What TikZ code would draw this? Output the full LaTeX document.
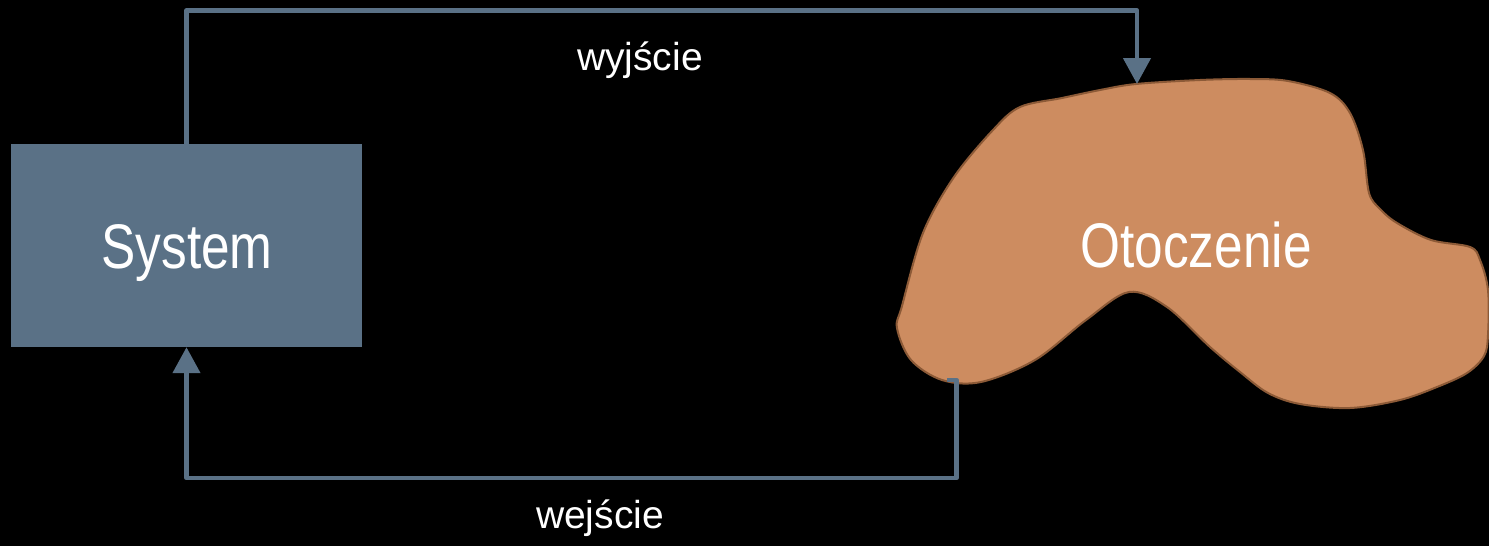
\documentclass[tikz,border=0pt]{standalone}
\usepackage{fontspec}
\setmainfont{Liberation Sans}
\newfontfamily\narrowsans[FakeStretch=0.815]{Liberation Sans}
\usetikzlibrary{arrows.meta}
\definecolor{slate}{HTML}{5A7186}
\definecolor{clay}{HTML}{CD8C60}
\definecolor{clayline}{HTML}{8C5A37}
\begin{document}
\begin{tikzpicture}[x=1pt,y=-1pt,
  conn/.style={draw=slate, line width=4.5pt, line join=round},
  tipend/.style={-{Triangle[length=26pt,width=27pt]}},
  bigtext/.style={text=white, font=\narrowsans\fontsize{63}{63}\selectfont, anchor=base, inner sep=0pt},
  smalltext/.style={text=white, font=\fontsize{39}{39}\selectfont, anchor=base, inner sep=0pt},
  sysbox/.style={fill=slate, draw=none, minimum width=351pt, minimum height=203pt, inner sep=0pt},
  blob/.style={fill=clay, draw=clayline, line width=2pt}]
\fill[black] (0,0) rectangle (1489,546);
\useasboundingbox (0,0) rectangle (1489,546);

% environment blob
\path[blob] plot[smooth cycle, tension=0.55] coordinates {
  (1136,84) (1200,80) (1250,79) (1288,81) (1330,93) (1350,113) (1363,150)
  (1369,193) (1380,209) (1397,223) (1431,240) (1470,247) (1480,260)
  (1488,290) (1488,335) (1484,356) (1467,373) (1437,387) (1400,400)
  (1350,408) (1300,404) (1268,393) (1240,372) (1210,347) (1167,307)
  (1129,292) (1086,320) (1035,360) (981,382) (942,380) (911,360)
  (897,328) (902,306) (923,233) (954,177) (993,130) (1020,107)
  (1062,98) (1100,90)};

% system box
\node[sysbox] (sys) at (186.5,245.5) {};
\node[bigtext] (syslabel) at (187,268) {System};
\node[bigtext] (env) at (1196,267) {Otoczenie};

% labels
\node[smalltext] (outlabel) at (640,70) {wyjście};
\node[smalltext] (inlabel) at (600,528) {wejście};

% connectors
\coordinate (outtip) at (1137,84);
\coordinate (topright) at (1137,10.5);
\coordinate (instart) at (947,380);
\coordinate (incorner) at (956.5,380);
\coordinate (inbottom) at (956.5,478);
\draw[conn, tipend] (sys.north) |- (topright) -- (outtip);
\draw[conn, tipend] (instart) -- (incorner) -- (inbottom) -| (sys.south);
\end{tikzpicture}
\end{document}
